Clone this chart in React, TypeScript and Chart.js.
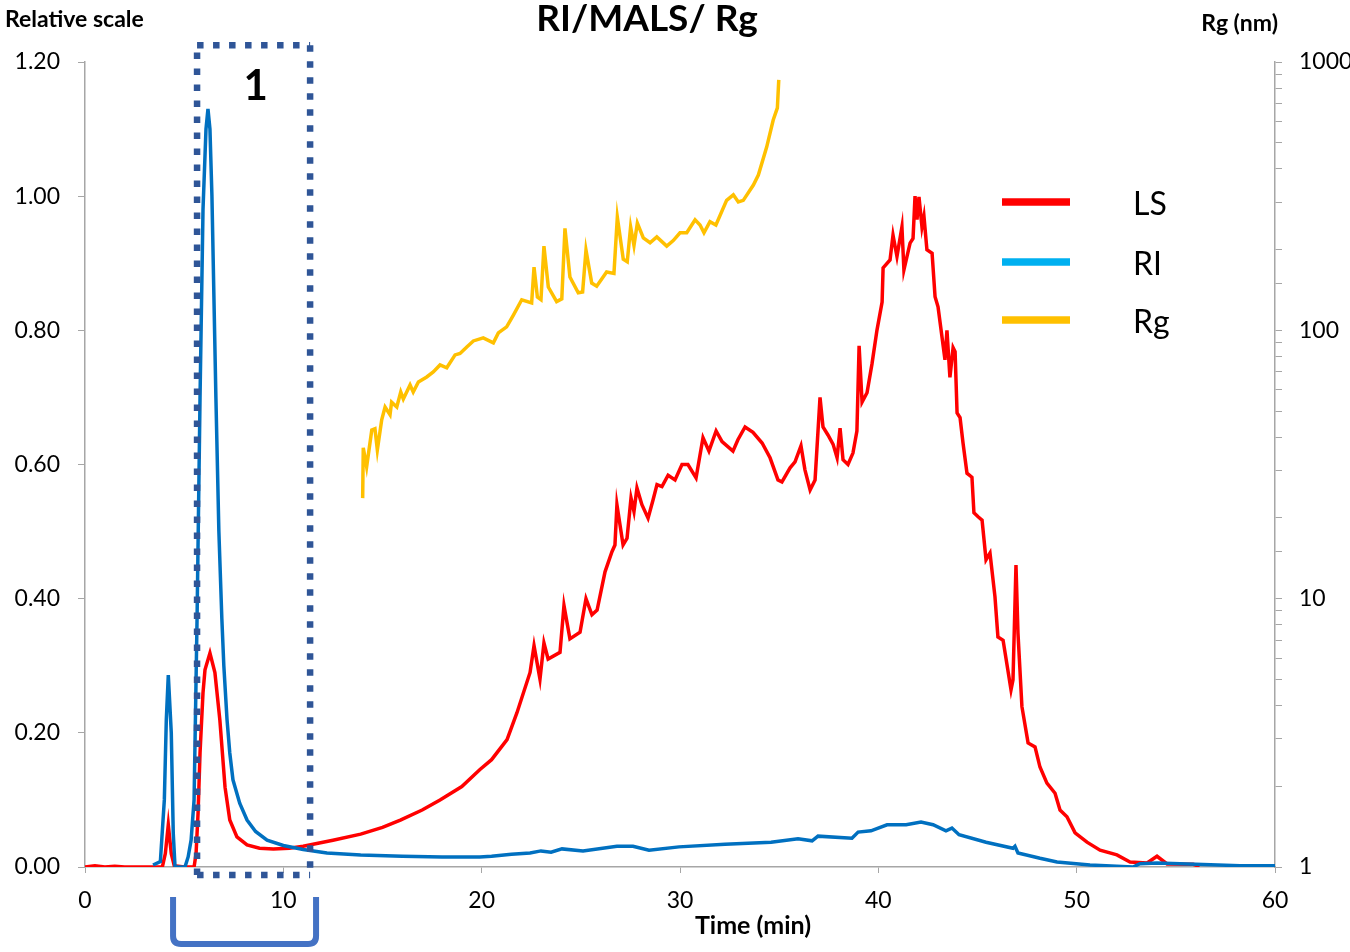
import React, { useEffect, useRef } from "react";
import { Chart, registerables } from "chart.js";

Chart.register(...registerables);

// ---- Data ----
const timeLS = [0, 0.5, 1.0, 1.5, 2.0, 3.0, 3.9, 4.05, 4.2, 4.35, 4.5, 5.0, 5.5, 5.6, 5.7, 5.8, 5.95, 6.05, 6.3, 6.55, 6.8, 7.06, 7.3, 7.66, 8.17, 8.8, 9.5, 10.3, 11.0, 11.5, 12.5, 13.9, 15.0, 15.9, 17.0, 17.9, 19.0, 19.9, 20.5,
  21.28, 21.78, 22.44, 22.64, 22.94, 23.14, 23.35, 23.95, 24.15, 24.45, 24.96, 25.26, 25.56, 25.82, 26.22, 26.57, 26.72, 26.82, 27.13, 27.33, 27.53, 27.68, 27.83, 28.08, 28.39, 28.64, 28.84, 29.09, 29.40, 29.75, 30.10, 30.40, 30.81, 31.16, 31.46, 31.82, 32.12, 32.67, 32.92, 33.28, 33.68, 34.14, 34.54, 34.94, 35.14, 35.55, 35.80, 36.10, 36.30, 36.56, 36.81, 37.06, 37.21, 37.46, 37.72, 37.92, 38.07, 38.22, 38.47, 38.72, 38.92, 39.03, 39.18, 39.43, 39.68, 39.93, 40.19, 40.24, 40.59, 40.74, 40.94, 41.19, 41.29, 41.60, 41.75, 41.85, 41.95, 42.05, 42.20, 42.30, 42.45, 42.71, 42.86, 43.01, 43.21, 43.36, 43.46, 43.61, 43.77, 43.87, 43.97, 44.12, 44.27, 44.47, 44.72, 44.82, 45.03, 45.23, 45.43, 45.63, 45.88, 46.03, 46.29, 46.69, 46.79, 46.94, 47.04, 47.24, 47.55, 47.90, 48.15, 48.50, 48.91, 49.16, 49.51, 49.92, 50.52, 51.18, 52.03, 52.69, 53.55, 54.05, 54.56, 55.87, 56.2];
const valLS = [0.0, 0.002, 0.0, 0.001, 0.0, 0.0, 0.0, 0.02, 0.063, 0.02, 0.002, 0.0, 0.0, 0.02, 0.08, 0.17, 0.26, 0.294, 0.319, 0.29, 0.219, 0.119, 0.07, 0.045, 0.033, 0.028, 0.027, 0.028, 0.031, 0.034, 0.04, 0.049, 0.059, 0.07, 0.085, 0.1, 0.12, 0.145, 0.16,
  0.19, 0.23, 0.29, 0.33, 0.28, 0.334, 0.31, 0.32, 0.39, 0.34, 0.35, 0.40, 0.376, 0.383, 0.44, 0.47, 0.48, 0.54, 0.48, 0.49, 0.55, 0.53, 0.565, 0.54, 0.52, 0.547, 0.57, 0.567, 0.584, 0.577, 0.60, 0.60, 0.58, 0.64, 0.62, 0.65, 0.634, 0.62, 0.637, 0.656, 0.648, 0.632, 0.61, 0.577, 0.574, 0.595, 0.604, 0.628, 0.592, 0.562, 0.577, 0.70, 0.656, 0.644, 0.63, 0.61, 0.654, 0.607, 0.60, 0.617, 0.65, 0.777, 0.693, 0.707, 0.75, 0.80, 0.842, 0.893, 0.905, 0.942, 0.91, 0.954, 0.89, 0.93, 0.937, 1.0, 0.965, 0.999, 0.954, 0.97, 0.92, 0.915, 0.85, 0.835, 0.79, 0.756, 0.80, 0.73, 0.774, 0.768, 0.677, 0.67, 0.632, 0.587, 0.581, 0.528, 0.522, 0.517, 0.458, 0.468, 0.403, 0.343, 0.338, 0.264, 0.279, 0.45, 0.349, 0.239, 0.185, 0.179, 0.149, 0.125, 0.11, 0.085, 0.075, 0.051, 0.037, 0.025, 0.018, 0.0075, 0.006, 0.016, 0.0045, 0.004, 0.001];

const timeRI = [3.43, 3.8, 4.0, 4.1, 4.2, 4.35, 4.45, 4.54, 5.04, 5.2, 5.35, 5.5, 5.65, 5.8, 5.95, 6.1, 6.2, 6.3, 6.4, 6.6, 6.75, 6.9, 7.0, 7.16, 7.3, 7.46, 7.8, 8.17, 8.6, 9.18, 10.0, 11.0, 12.2, 13.9, 16.0, 18.0, 19.9, 20.5, 21.5,
  22.44, 22.99, 23.5, 24.05, 25.11, 26.82, 27.63, 28.44, 29.95, 32.27, 34.59, 35.95, 36.66, 36.96, 38.67, 38.98, 39.63, 40.44, 41.40, 42.15, 42.76, 43.41, 43.71, 44.07, 45.43, 46.79, 46.89, 47.04, 48.15, 49.01, 50.67, 52.84, 53.19, 54.05, 56.0, 58.24, 60.0];
const valRI = [0.003, 0.008, 0.1, 0.22, 0.286, 0.2, 0.05, 0.0, 0.0, 0.015, 0.04, 0.1, 0.37, 0.7, 0.98, 1.1, 1.13, 1.1, 1.0, 0.7, 0.5, 0.37, 0.3, 0.22, 0.17, 0.13, 0.095, 0.07, 0.053, 0.04, 0.032, 0.026, 0.021, 0.018, 0.016, 0.015, 0.015, 0.016, 0.019,
  0.021, 0.024, 0.022, 0.027, 0.024, 0.031, 0.031, 0.025, 0.03, 0.034, 0.037, 0.042, 0.039, 0.046, 0.043, 0.052, 0.054, 0.063, 0.063, 0.067, 0.063, 0.054, 0.058, 0.048, 0.037, 0.028, 0.031, 0.021, 0.013, 0.0075, 0.003, 0.0, 0.005, 0.006, 0.004, 0.002, 0.002];

const timeRg = [14.00, 14.03, 14.20, 14.46, 14.62, 14.74, 14.96, 15.13, 15.38, 15.46, 15.72, 15.92, 16.05, 16.39, 16.55, 16.81, 17.23, 17.56, 17.90, 18.24, 18.66, 18.91, 19.25, 19.58, 20.08, 20.59, 20.84, 21.26, 21.60, 22.02, 22.52, 22.64, 22.81, 22.99, 23.14, 23.36, 23.78, 24.04, 24.20, 24.45, 24.87, 25.09, 25.26, 25.55, 25.80, 26.30, 26.67, 26.84, 27.14, 27.34, 27.51, 27.68, 27.85, 28.15, 28.49, 28.83, 29.33, 29.66, 30.00, 30.34, 30.76, 31.01, 31.21, 31.51, 31.81, 32.35, 32.69, 32.94, 33.19, 33.70, 33.95, 34.37, 34.70, 34.91, 34.98];
const valRg = [23.7, 36.5, 31, 42.5, 43, 35.8, 46.4, 51.8, 48.5, 54, 51.8, 58.9, 55.5, 62.6, 58.9, 64.2, 67, 70, 74.3, 72.5, 81, 82, 86.7, 91.3, 93.7, 89.8, 97.8, 103, 114, 130, 126.5, 172, 133, 130, 206, 145, 128, 131, 240, 158, 138, 139, 199, 150, 146, 165, 163, 264, 184, 180, 243, 207, 251, 221, 212, 223, 206, 216, 231, 231, 258, 247, 231, 254, 247, 305, 320, 301, 305, 348, 379, 482, 608, 675, 858];

const xTicks = [0, 10, 20, 30, 40, 50, 60];
const legendLabels = ["LS", "RI", "Rg"];
const legendColors = ["#ff0000", "#00b0f0", "#ffc000"];

const FONT = "Lato, 'Open Sans', sans-serif";

const overlayPlugin = {
  id: "overlay",
  afterDraw(chart: any) {
    const ctx = chart.ctx;
    const xs = chart.scales.x;
    const ys = chart.scales.y;
    const area = chart.chartArea;
    ctx.save();

    // Dotted rectangle around region 1
    const rx1 = xs.getPixelForValue(5.65);
    const rx2 = xs.getPixelForValue(11.35);
    const ry1 = ys.getPixelForValue(1.225);
    const ry2 = ys.getPixelForValue(-0.012);
    ctx.strokeStyle = "#2f5597";
    ctx.lineWidth = 6.5;
    ctx.lineCap = "butt";
    ctx.setLineDash([6.5, 9.5]);
    const seg = (a: number, b: number, c: number, d: number) => {
      ctx.beginPath();
      ctx.moveTo(a, b);
      ctx.lineTo(c, d);
      ctx.stroke();
    };
    seg(rx1, ry2, rx1, ry1);
    seg(rx1, ry1, rx2, ry1);
    seg(rx2, ry1, rx2, ry2);
    seg(rx1, ry2, rx2, ry2);
    ctx.setLineDash([]);

    // "1" label
    ctx.fillStyle = "#000";
    ctx.font = `bold 42px ${FONT}`;
    ctx.textAlign = "center";
    ctx.textBaseline = "middle";
    ctx.fillText("1", xs.getPixelForValue(8.6), ys.getPixelForValue(1.163));

    // Bracket under the axis
    const bx1 = xs.getPixelForValue(4.44);
    const bx2 = xs.getPixelForValue(11.65);
    const bTop = area.bottom + 30;
    const bBot = area.bottom + 77;
    const r = 8;
    ctx.strokeStyle = "#4472c4";
    ctx.lineWidth = 6;
    ctx.beginPath();
    ctx.moveTo(bx1, bTop);
    ctx.lineTo(bx1, bBot - r);
    ctx.quadraticCurveTo(bx1, bBot, bx1 + r, bBot);
    ctx.lineTo(bx2 - r, bBot);
    ctx.quadraticCurveTo(bx2, bBot, bx2, bBot - r);
    ctx.lineTo(bx2, bTop);
    ctx.stroke();

    // Titles
    ctx.fillStyle = "#000";
    ctx.textBaseline = "middle";
    ctx.font = `bold 37px ${FONT}`;
    ctx.textAlign = "center";
    ctx.fillText("RI/MALS/ Rg", 647, 19);
    ctx.font = `bold 23px ${FONT}`;
    ctx.textAlign = "left";
    ctx.fillText("Relative scale", 5, 20);
    ctx.textAlign = "right";
    ctx.fillText("Rg (nm)", 1278, 24);
    ctx.textAlign = "center";
    ctx.font = `bold 25px ${FONT}`;
    ctx.fillText("Time (min)", 753, area.bottom + 59);

    // Legend
    const legY = [202, 262, 320];
    legendLabels.forEach((lab, i) => {
      ctx.strokeStyle = legendColors[i];
      ctx.lineWidth = 7.5;
      ctx.beginPath();
      ctx.moveTo(1002, legY[i]);
      ctx.lineTo(1070, legY[i]);
      ctx.stroke();
      ctx.fillStyle = "#000";
      ctx.font = `32px ${FONT}`;
      ctx.textAlign = "left";
      ctx.textBaseline = "middle";
      ctx.fillText(lab, 1133, legY[i] + 3);
    });
    ctx.restore();
  },
};

export default function App() {
  const ref = useRef<HTMLCanvasElement>(null);
  useEffect(() => {
    document.body.style.margin = "0";
    const mk = (xs: number[], ys: number[]) => xs.map((x, i) => ({ x, y: ys[i] }));
    const chart = new Chart(ref.current as HTMLCanvasElement, {
      type: "line",
      data: {
        datasets: [
          { label: "RI", data: mk(timeRI, valRI), borderColor: "#0070c0", borderWidth: 3.5, pointRadius: 0, yAxisID: "y", tension: 0 },
          { label: "LS", data: mk(timeLS, valLS), borderColor: "#ff0000", borderWidth: 3.5, pointRadius: 0, yAxisID: "y", tension: 0 },
          { label: "Rg", data: mk(timeRg, valRg), borderColor: "#ffc000", borderWidth: 3.5, pointRadius: 0, yAxisID: "y2", tension: 0 },
        ],
      },
      options: {
        animation: false,
        responsive: false,
        devicePixelRatio: 1,
        layout: { padding: { top: 62, left: 0, right: 0, bottom: 0 } },
        plugins: { legend: { display: false }, tooltip: { enabled: false }, title: { display: false } },
        scales: {
          x: {
            type: "linear",
            min: 0,
            max: 60,
            afterBuildTicks: (s: any) => { s.ticks = xTicks.map((v) => ({ value: v })); },
            afterFit: (s: any) => { s.height = 85; },
            grid: { drawOnChartArea: false, drawTicks: true, tickLength: 6, color: "#a6a6a6" },
            border: { color: "#a6a6a6", width: 1.5 },
            ticks: { color: "#000", font: { family: FONT, size: 23 }, padding: 14, maxRotation: 0 },
          },
          y: {
            type: "linear",
            position: "left",
            min: 0,
            max: 1.2,
            afterFit: (s: any) => { s.width = 85; },
            grid: { drawOnChartArea: false, drawTicks: true, tickLength: 7, color: "#a6a6a6" },
            border: { color: "#a6a6a6", width: 1.5 },
            ticks: { stepSize: 0.2, color: "#000", font: { family: FONT, size: 23 }, padding: 18, callback: (v: any) => Number(v).toFixed(2) },
          },
          y2: {
            type: "logarithmic",
            position: "right",
            min: 1,
            max: 1000,
            afterFit: (s: any) => { s.width = 75; },
            grid: { drawOnChartArea: false, drawTicks: true, tickLength: 7, color: "#a6a6a6" },
            border: { color: "#a6a6a6", width: 1.5 },
            ticks: {
              autoSkip: false,
              color: "#000",
              font: { family: FONT, size: 23 },
              padding: 17,
              callback: (v: any) => {
                const l = Math.log10(Number(v));
                return Math.abs(l - Math.round(l)) < 1e-9 ? String(Math.round(Number(v))) : "";
              },
            },
          },
        },
      },
      plugins: [overlayPlugin],
    });
    return () => chart.destroy();
  }, []);
  return (
    <div style={{ position: "absolute", left: 0, top: 0, width: 1350, height: 952 }}>
      <canvas ref={ref} width={1350} height={952} />
    </div>
  );
}
